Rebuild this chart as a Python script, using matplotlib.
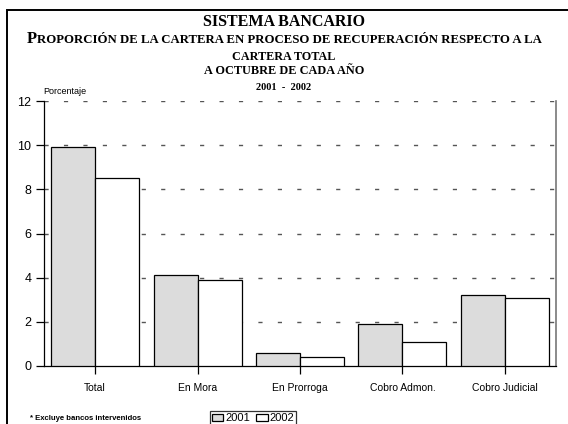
import matplotlib
matplotlib.use("Agg")
import matplotlib.pyplot as plt
import numpy as np
from matplotlib.patches import Rectangle

categories = ["Total", "En Mora", "En Prorroga", "Cobro Admon.", "Cobro Judicial"]
y2001 = [9.9, 4.1, 0.6, 1.9, 3.2]
y2002 = [8.5, 3.9, 0.4, 1.1, 3.1]
yticks = [0, 2, 4, 6, 8, 10, 12]

SERIF = "Liberation Serif"
SANS = "Liberation Sans"
W, H = 568, 424

fig = plt.figure(figsize=(5.68, 4.24), dpi=100)
ax = fig.add_axes([44 / W, 1 - 366 / H, 512 / W, 265 / H])

x = np.arange(len(categories))
w = 0.43
ax.bar(x - w / 2, y2001, w, color="#dcdcdc", edgecolor="black", lw=0.9, label="2001", zorder=3)
ax.bar(x + w / 2, y2002, w, color="white", edgecolor="black", lw=0.9, label="2002", zorder=3)

ax.set_xlim(-0.5, len(categories) - 0.5)
ax.set_ylim(0, 12)
ax.set_yticks(yticks)
ax.set_xticks(x)
ax.set_xticklabels(categories, family=SANS, fontsize=7.5)
for lab in ax.get_yticklabels():
    lab.set_family(SANS)
    lab.set_fontsize(9)
ax.tick_params(axis="y", length=6, width=0.9, pad=3)
ax.tick_params(axis="x", length=6, width=0.9, pad=6)

for yv in yticks[1:]:
    ax.axhline(yv, color="#555555", lw=1.0, ls=(0, (3, 11)), zorder=1)

ax.spines["top"].set_visible(False)
ax.spines["right"].set_color("#777777")
ax.spines["right"].set_linewidth(1.2)
ax.spines["left"].set_linewidth(0.9)
ax.spines["bottom"].set_linewidth(0.9)

# frame round the page, only its left and top edges fall inside
fig.patches.append(Rectangle((7 / W, -0.2), 1.2, 1.2 - 10 / H,
                             transform=fig.transFigure, fill=False,
                             edgecolor="black", lw=1.4))

fig.text(0.5, 1 - 22 / H, "SISTEMA BANCARIO", ha="center", va="center",
         family=SERIF, weight="bold", fontsize=11.5)

# small-caps style subtitle: bigger first letter
r = fig.canvas.get_renderer()
t1 = fig.text(0, 0, "P", family=SERIF, weight="bold", fontsize=12)
t2 = fig.text(0, 0, "ROPORCIÓN DE LA CARTERA EN PROCESO DE RECUPERACIÓN RESPECTO A LA",
              family=SERIF, weight="bold", fontsize=9.2)
w1 = t1.get_window_extent(r).width
w2 = t2.get_window_extent(r).width
x0 = (W - w1 - w2) / 2 / W
yb = 1 - 43 / H
t1.set_position((x0, yb))
t2.set_position((x0 + w1 / W, yb))

fig.text(0.5, 1 - 57 / H, "CARTERA TOTAL", ha="center", va="center",
         family=SERIF, weight="bold", fontsize=8.7)
fig.text(0.5, 1 - 71.5 / H, "A OCTUBRE DE CADA AÑO", ha="center", va="center",
         family=SERIF, weight="bold", fontsize=8.8)
fig.text(0.5, 1 - 87 / H, "2001  -  2002", ha="center", va="center",
         family=SERIF, weight="bold", fontsize=7.5)
fig.text(43 / W, 1 - 91 / H, "Porcentaje", ha="left", va="center",
         family=SANS, fontsize=6.5)
fig.text(30 / W, 1 - 418 / H, "* Excluye bancos intervenidos", ha="left", va="center",
         family=SANS, weight="bold", fontsize=5.6)

leg = fig.legend(loc="upper left", bbox_to_anchor=(210 / W, 1 - 411 / H), ncol=2,
                 prop={"family": SANS, "size": 8}, frameon=True, fancybox=False,
                 edgecolor="black", borderpad=0.2, handlelength=1.0, handleheight=0.65,
                 handletextpad=0.15, columnspacing=0.6, borderaxespad=0)
leg.get_frame().set_linewidth(0.9)

fig.savefig("out.png", dpi=100)
